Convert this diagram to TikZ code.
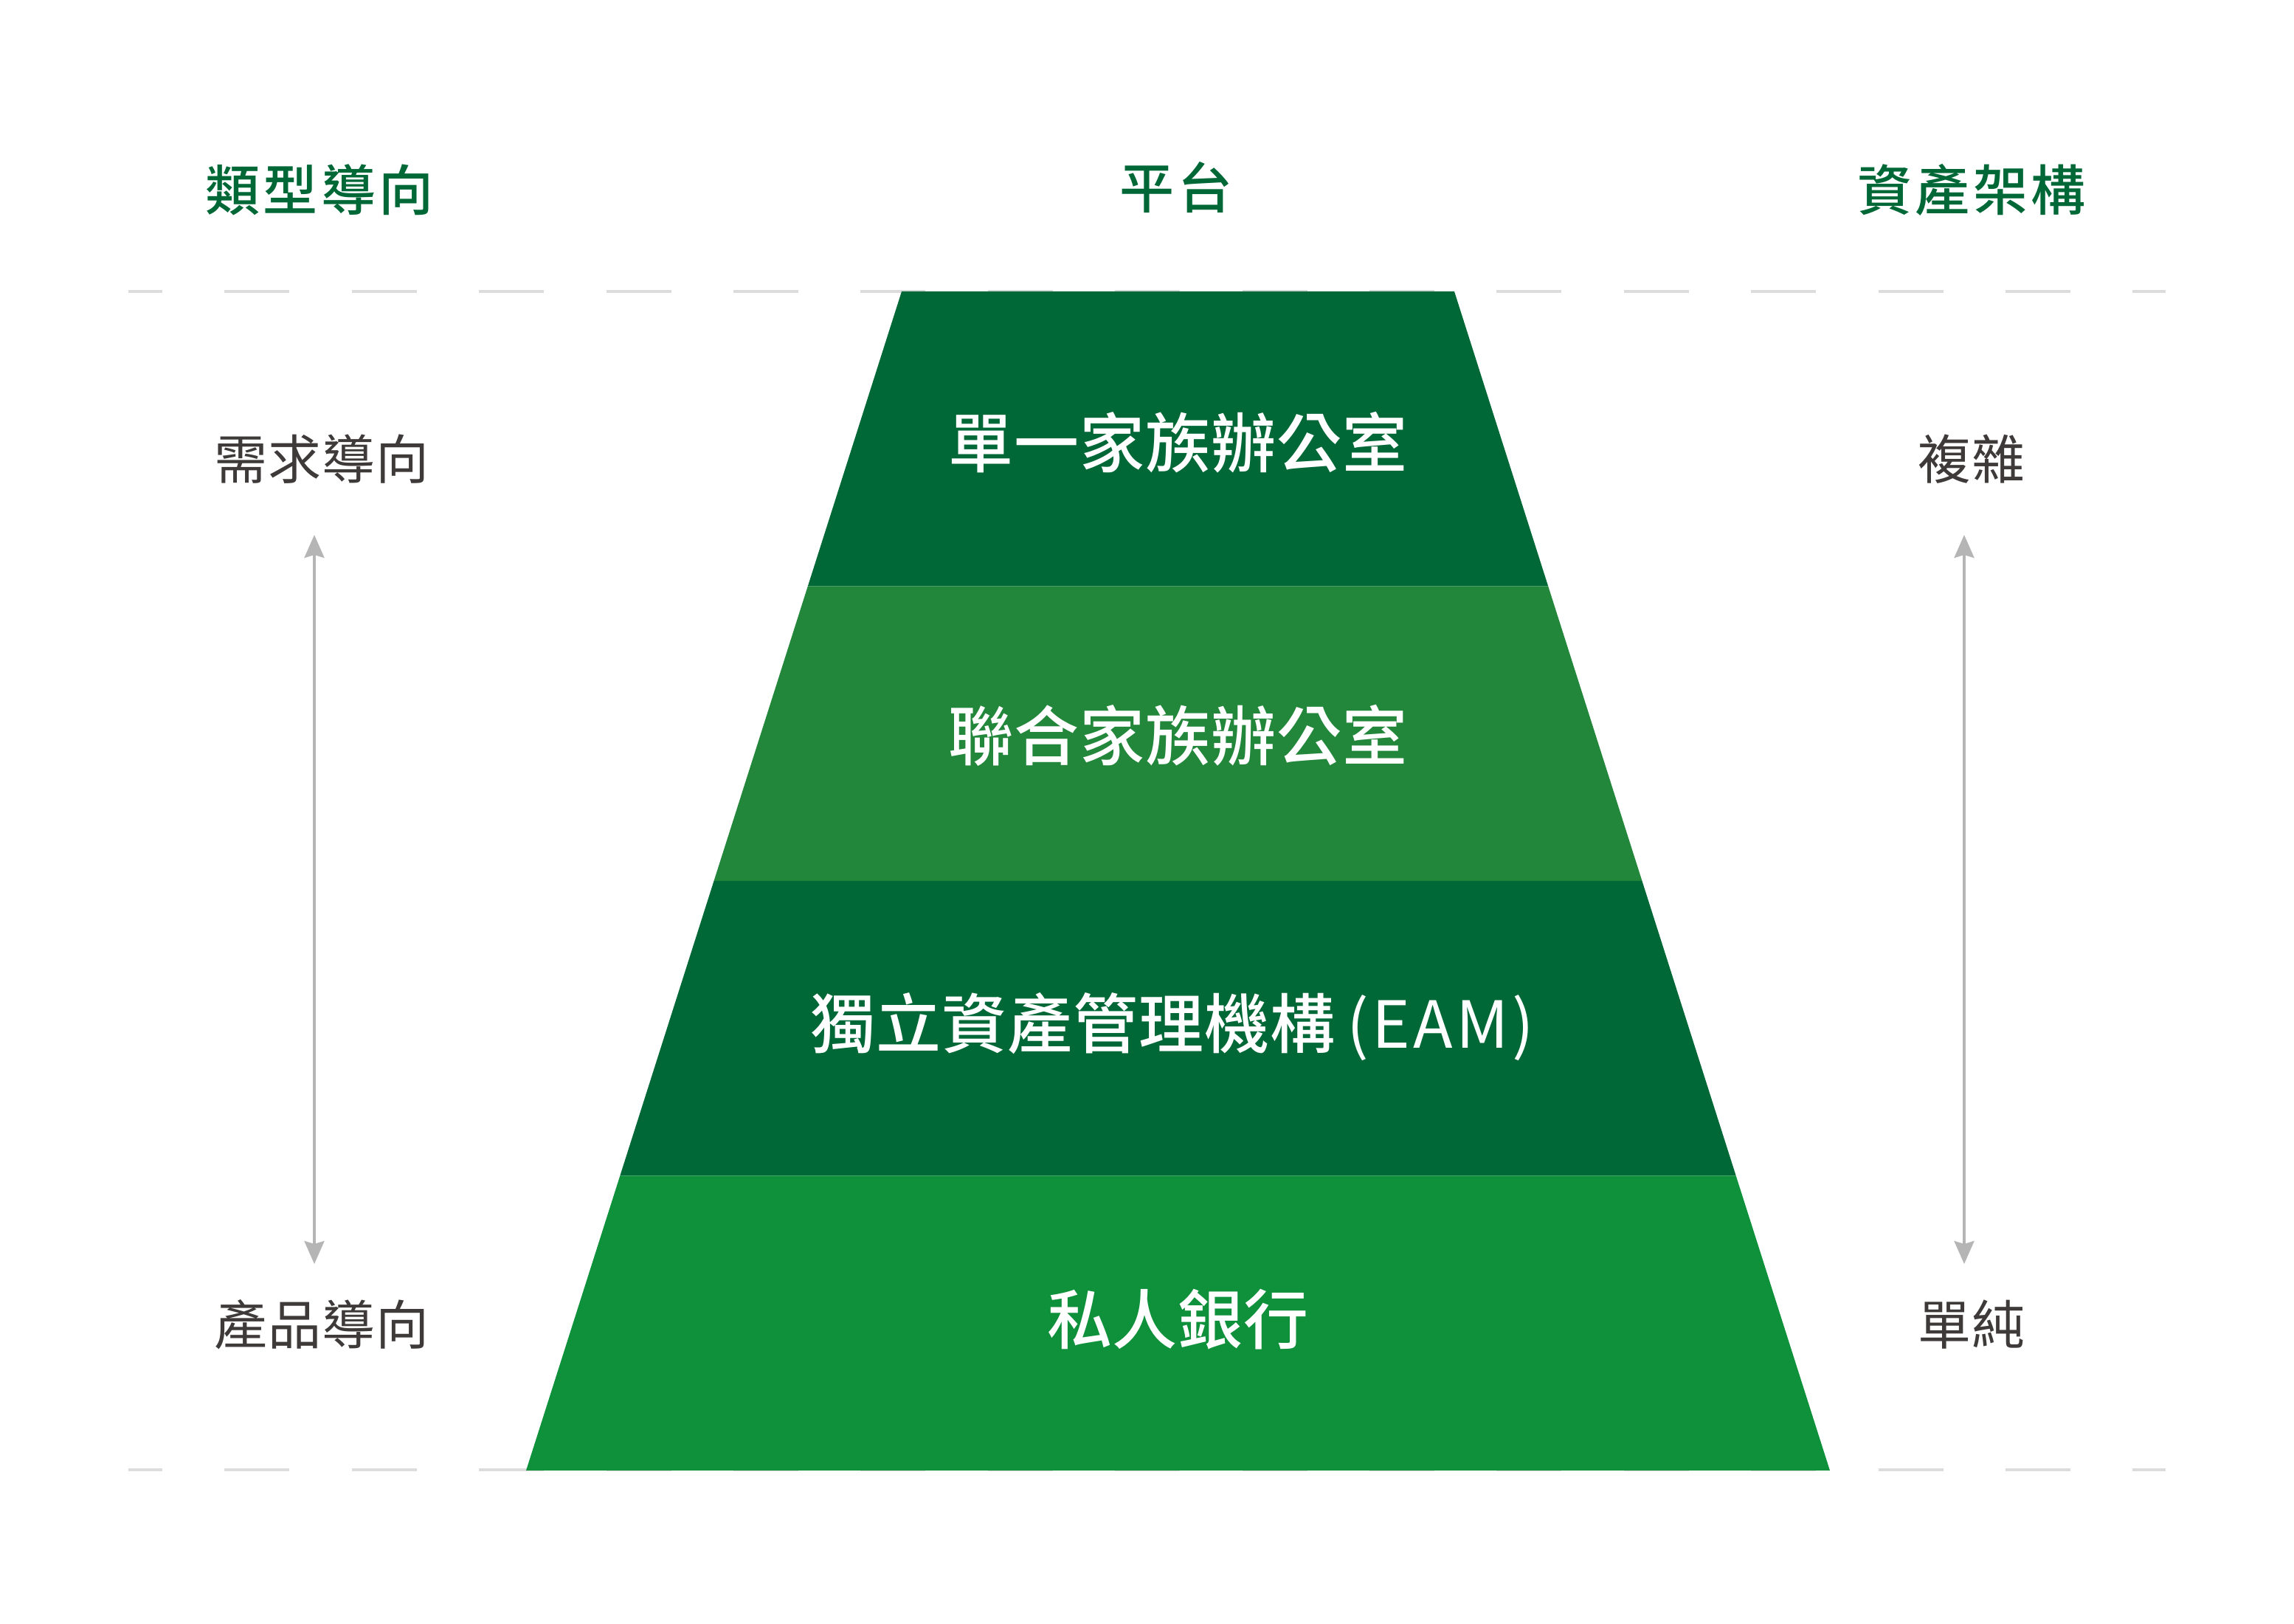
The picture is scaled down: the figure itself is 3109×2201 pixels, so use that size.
\documentclass[tikz,border=0pt]{standalone}
\usepackage{fontspec}
\usetikzlibrary{arrows.meta}
\newfontfamily\cjkreg{Noto Sans CJK TC}
\newfontfamily\cjkmed{Noto Sans CJK TC Medium}
\definecolor{dkgreen}{HTML}{006837}
\definecolor{midgreen}{HTML}{23873B}
\definecolor{brgreen}{HTML}{0F903B}
\definecolor{seamgreen}{HTML}{4E9E6A}
\definecolor{txtgrey}{HTML}{3E3A39}
\definecolor{arrowgrey}{HTML}{B5B5B5}
\definecolor{dashgrey}{HTML}{DCDCDC}
\begin{document}
\begin{tikzpicture}[x=0.25pt,y=-0.25pt,
  heading/.style={inner sep=0pt, anchor=center, text=dkgreen,
    font=\cjkmed\fontsize{18.5pt}{22pt}\selectfont\addfontfeatures{LetterSpace=6}},
  sidelabel/.style={inner sep=0pt, anchor=center, text=txtgrey,
    font=\cjkreg\fontsize{18pt}{22pt}\selectfont\addfontfeatures{LetterSpace=1}},
  bandlabel/.style={inner sep=0pt, anchor=center, text=white,
    font=\cjkmed\fontsize{22pt}{26pt}\selectfont\addfontfeatures{LetterSpace=1}},
  guide/.style={draw=dashgrey, line width=0.875pt,
    dash pattern=on 22pt off 21.1pt, dash phase=10.5pt},
  scalearrow/.style={draw=arrowgrey, line width=0.875pt,
    {Stealth[length=7.75pt,width=6.75pt,inset=1pt]}-{Stealth[length=7.75pt,width=6.75pt,inset=1pt]}}
]
% canvas
\fill[white] (0,0) rectangle (3109,2201);
\useasboundingbox (0,0) rectangle (3109,2201);

% dashed guide lines
\coordinate (gt-l) at (174,395);
\coordinate (gt-r) at (2935,395);
\coordinate (gb-l) at (174,1992);
\coordinate (gb-r) at (2935,1992);
\draw[guide] (gt-l) -- (gt-r);
\draw[guide] (gb-l) -- (gb-r);

% pyramid bands
\fill[dkgreen]  (1222,395) -- (1971,395) -- (2098.2,794.5) -- (1094.8,794.5) -- cycle;
\fill[midgreen] (1094.8,794.5) -- (2098.2,794.5) -- (2225.5,1194) -- (967.5,1194) -- cycle;
\fill[dkgreen]  (967.5,1194) -- (2225.5,1194) -- (2352.7,1593.5) -- (840.3,1593.5) -- cycle;
\fill[brgreen]  (840.3,1593.5) -- (2352.7,1593.5) -- (2480,1993) -- (713,1993) -- cycle;
\draw[seamgreen, line width=0.4pt] (1094.8,794.5) -- (2098.2,794.5);

% band labels
\node[bandlabel] (b1) at (1596.5,600) {單一家族辦公室};
\node[bandlabel] (b2) at (1596.5,997) {聯合家族辦公室};
\node[bandlabel] (b3) at (1589,1392) {獨立資產管理機構\hspace{4pt}{\cjkreg\addfontfeatures{LetterSpace=5}(EAM)}};
\node[bandlabel] (b4) at (1596.5,1788) {私人銀行};

% headings
\node[heading] (h-type) at (433,257) {類型導向};
\node[heading] (h-plat) at (1594,254) {平台};
\node[heading] (h-asset) at (2672,257) {資產架構};

% side labels
\node[sidelabel] (l-need) at (436,622) {需求導向};
\node[sidelabel] (l-prod) at (436,1795) {產品導向};
\node[sidelabel] (r-cplx) at (2672,622) {複雜};
\node[sidelabel] (r-simp) at (2672,1795) {單純};

% scale arrows
\coordinate (la-top) at (426,725);
\coordinate (la-bot) at (426,1713);
\coordinate (ra-top) at (2662,725);
\coordinate (ra-bot) at (2662,1713);
\draw[scalearrow] (la-bot) -- (la-top);
\draw[scalearrow] (ra-bot) -- (ra-top);
\end{tikzpicture}
\end{document}
